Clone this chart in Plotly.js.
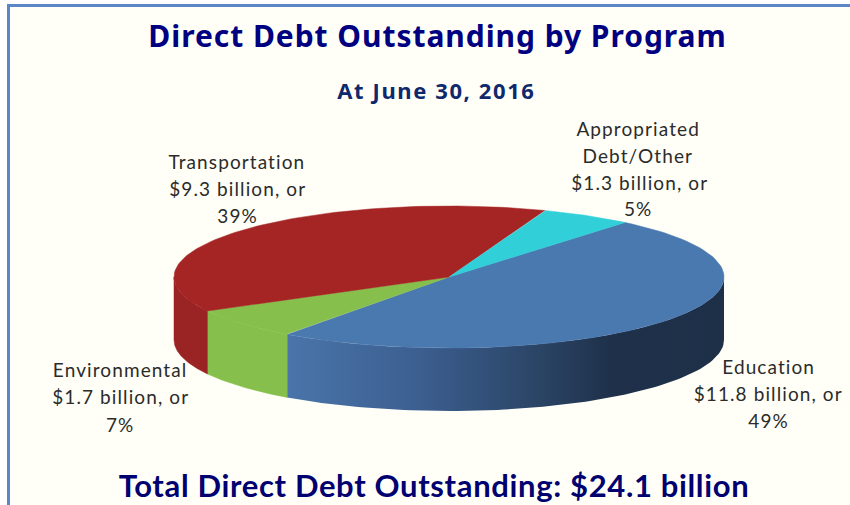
<!DOCTYPE html>
<html><head><meta charset="utf-8">
<script src="https://cdn.plot.ly/plotly-3.0.1.min.js"></script>
<style>html,body{margin:0;padding:0;background:#fff}
.annotation text{letter-spacing:1.1px}
.annotation[data-index="13"] text{letter-spacing:1.6px}
.annotation[data-index="14"] text{letter-spacing:0.65px}
.gtitle{letter-spacing:0.95px}
</style></head>
<body><div id="chart" style="width:850px;height:505px"></div>
<script>
// Data (clockwise from the Education slice)
var programs = ['Education','Environmental','Transportation','Appropriated Debt/Other'];
var billions = [11.8, 1.7, 9.3, 1.3];
var topColors = ['#4a79b0','#86bf4b','#a52525','#31cfd8'];
var sideColors = ['#3a5c8c','#86bf4b','#9a2323','#31cfd8'];
var blueWallScale = [[0,'#4a75aa'],[0.3,'#3c5f90'],[0.58,'#2a4465'],[0.74,'#1f314a'],[1,'#1e3048']];

var labelLines = [
  {x:638,y:128,t:'Appropriated'},{x:638,y:155,t:'Debt/Other'},{x:639,y:182,t:'$1.3 billion, or'},{x:638,y:208,t:'5%'},
  {x:237,y:161,t:'Transportation'},{x:237,y:188,t:'$9.3 billion, or'},{x:237,y:215,t:'39%'},
  {x:120,y:369,t:'Environmental'},{x:120,y:396,t:'$1.7 billion, or'},{x:120,y:424,t:'7%'},
  {x:768,y:366,t:'Education'},{x:768,y:393,t:'$11.8 billion, or'},{x:768,y:420,t:'49%'}
];

// Pie projection
var cx=449, cy=277, rx=275, ry=71, depth=63, startDeg=-50.2;
function px(d){return cx+rx*Math.cos(d*Math.PI/180);}
function py(d,o){return cy+ry*Math.sin(d*Math.PI/180)+(o||0);}
function clip(a,b,lo,hi){return [Math.max(a,lo),Math.min(b,hi)];}
var total=billions.reduce(function(s,v){return s+v;},0);
var walls=[], tops=[], a=startDeg;
billions.forEach(function(v,i){
  var sweep=v/total*360, b=a+sweep;
  // top face
  var X=[cx],Y=[cy];
  for(var k=0;k<=90;k++){var d=a+(b-a)*k/90;X.push(px(d));Y.push(py(d));}
  X.push(cx);Y.push(cy);
  tops.push({type:'scatter',mode:'lines',x:X,y:Y,fill:'toself',fillcolor:topColors[i],line:{width:0.5,color:topColors[i]},hoverinfo:'text',text:programs[i],showlegend:false});
  // front wall (visible part only)
  var r=clip(a,b,0,180);
  if(r[1]>r[0]){
    var WX=[],WY=[],WB=[];
    for(var k=0;k<=90;k++){var d=r[0]+(r[1]-r[0])*k/90;WX.push(px(d));WY.push(py(d));WB.push(py(d,depth));}
    var tr={type:'scatter',mode:'lines',x:WX.concat(WX.slice().reverse(),[WX[0]]),y:WY.concat(WB.reverse(),[WY[0]]),fill:'toself',fillcolor:sideColors[i],line:{width:0.5,color:sideColors[i]},hoverinfo:'skip',showlegend:false};
    if(i===0){tr.fillgradient={type:'horizontal',colorscale:blueWallScale};tr.line={width:0,color:sideColors[i]};}
    walls.push(tr);
  }
  a=b;
});
var traces=walls.concat(tops);

var ann=labelLines.map(function(l){return {x:l.x,y:l.y,xref:'x',yref:'y',text:l.t,showarrow:false,xanchor:'center',yanchor:'middle',font:{family:'Lato, sans-serif',size:19,color:'#2b2b2b'}};});
ann.push({x:436,y:90,xref:'x',yref:'y',text:'<b>At June 30, 2016</b>',showarrow:false,xanchor:'center',yanchor:'middle',font:{family:'Noto Sans, sans-serif',size:22,color:'#10286c'}});
ann.push({x:434,y:485,xref:'x',yref:'y',text:'<b>Total Direct Debt Outstanding: $24.1 billion</b>',showarrow:false,xanchor:'center',yanchor:'middle',font:{family:'Lato, sans-serif',size:31,color:'#000070'}});

var layout={width:850,height:505,margin:{l:0,r:0,t:0,b:0},paper_bgcolor:'#ffffff',plot_bgcolor:'rgba(0,0,0,0)',showlegend:false,
 title:{text:'<b>Direct Debt Outstanding by Program</b>',x:437.5/850,xref:'paper',xanchor:'center',yanchor:'middle',y:0.927,font:{family:'Noto Sans, sans-serif',size:30,color:'#000080'}},
 xaxis:{range:[0,850],visible:false,fixedrange:true},
 yaxis:{range:[505,0],visible:false,fixedrange:true},
 shapes:[{type:'rect',xref:'x',yref:'y',x0:8.5,y0:5.5,x1:853,y1:510,line:{color:'#5b87c6',width:3},fillcolor:'#fffff7',layer:'below'}],
 annotations:ann};
Plotly.newPlot('chart',traces,layout,{displayModeBar:false});
</script></body></html>
